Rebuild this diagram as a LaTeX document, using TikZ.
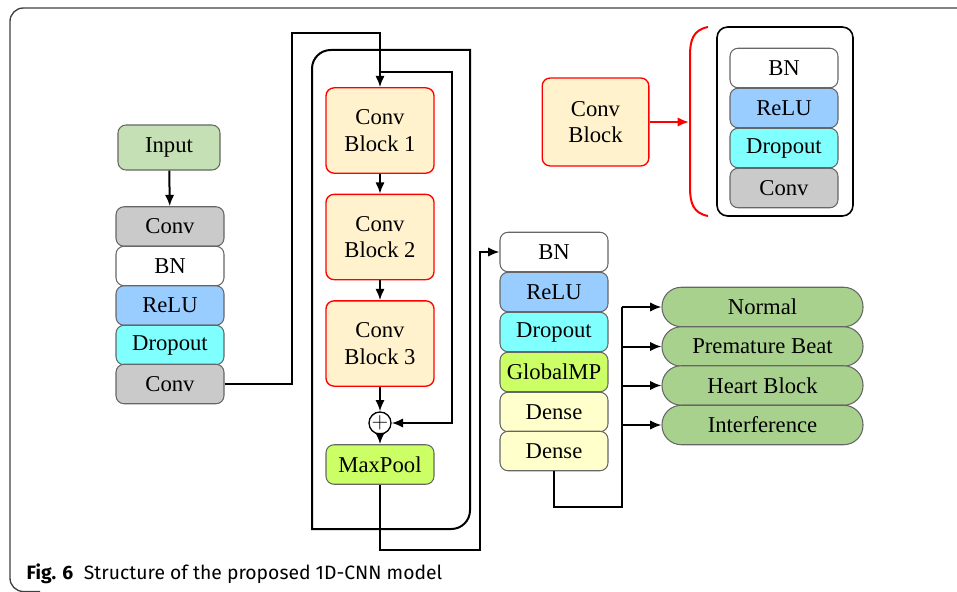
\documentclass[tikz,border=0pt]{standalone}
\usepackage{fontspec}
\setmainfont{Liberation Serif}
\newfontfamily\capfont{Fira Sans}
\usetikzlibrary{arrows.meta}
\definecolor{ingreen}{HTML}{C5E0B4}
\definecolor{cgray}{HTML}{CACACA}
\definecolor{reblue}{HTML}{99CCFF}
\definecolor{docyan}{HTML}{80FFFF}
\definecolor{mpgreen}{HTML}{CCFF66}
\definecolor{dnyellow}{HTML}{FFFFCC}
\definecolor{blkfill}{HTML}{FFF2CC}
\definecolor{outgreen}{HTML}{A9D18E}
\begin{document}
\begin{tikzpicture}[x=0.75pt,y=-0.75pt,
  blk/.style={draw=black!60, line width=0.8pt, rounded corners=6pt, minimum width=81pt, minimum height=29.6pt, inner sep=0pt, font=\fontsize{17}{20}\selectfont},
  cblk/.style={blk, draw=red, line width=1pt, fill=blkfill, minimum height=64pt, align=center},
  res/.style={draw=black!60, line width=0.8pt, fill=outgreen, rounded corners=14.5pt, minimum width=150.75pt, minimum height=29.6pt, inner sep=0pt, font=\fontsize{17}{20}\selectfont},
  link/.style={line width=1.5pt, -{Latex[length=8.5pt,width=7pt]}},
  wire/.style={line width=1.5pt}]
\useasboundingbox (0,0) rectangle (957,592);
\draw[black!75, line width=1pt, rounded corners=10pt] (957,8) -- (10,8) -- (10,591.5) -- (40,591.5); % figure frame

% input branch
\node[blk, fill=ingreen, minimum width=76.5pt, minimum height=33.75pt] (in) at (169,147.5) {Input};
\foreach \n/\t/\c/\y in {lc1/Conv/cgray/226.5, lbn/BN/white/266, lre/ReLU/reblue/305.5, ldo/Dropout/docyan/345, lc2/Conv/cgray/384}
  \node[blk, fill=\c] (\n) at (170,\y) {\t};

% repeated residual part
\foreach \i/\y in {1/130.5, 2/237, 3/343.5}
  \node[cblk] (cb\i) at (380,\y) {Conv\\Block \i};
\node[circle, draw, line width=1pt, minimum size=16.5pt, inner sep=0pt, font=\fontsize{17}{17}\selectfont] (sum) at (380,423) {$+$};
\node[blk, fill=mpgreen] (mp) at (380,464.5) {MaxPool};
\draw[wire] (312,529) [rounded corners=14pt] -- (312,50) [sharp corners] -- (470,50) [rounded corners=14pt] -- (470,529) [sharp corners] -- cycle; % loop frame

% head
\foreach \n/\t/\c/\y in {rbn/BN/white/252, rre/ReLU/reblue/292, rdo/Dropout/docyan/332, rgp/GlobalMP/mpgreen/372, rd1/Dense/dnyellow/412, rd2/Dense/dnyellow/451}
  \node[blk, fill=\c] (\n) at (554,\y) {\t};
\foreach \n/\t/\y in {o1/Normal/307, o2/Premature Beat/346.5, o3/Heart Block/385.5, o4/Interference/425}
  \node[res] (\n) at (762.5,\y) {\t};

% conv block legend
\node[cblk, minimum width=80pt, minimum height=66pt] (key) at (595.5,122) {Conv\\Block};
\node[draw, line width=1.2pt, rounded corners=8pt, minimum width=102pt, minimum height=141.75pt] (kbox) at (785,121.5) {};
\foreach \n/\t/\c/\y in {kbn/BN/white/68, kre/ReLU/reblue/108, kdo/Dropout/docyan/148, kc/Conv/cgray/188}
  \node[blk, fill=\c] (\n) at (784,\y) {\t};
\coordinate (bt) at (689,122);
\draw[red, link] (key.east) -- (bt);
\draw[red, line width=1.5pt] (708,27) .. controls (693,30) and (690,40) .. (690,56) -- (690,187) .. controls (690,203) and (693,213) .. (708,216); % brace

% connectors
\coordinate (up) at (292,33);
\coordinate (skip) at (380,72);
\coordinate (skipr) at (452,72);
\coordinate (low) at (480,550);
\coordinate (fork) at (622,507);
\draw[link] (in) -- (lc1);
\draw[link] (lc2.east) -| (up) -| (cb1.north);
\draw[link] (skip) -- (skipr) |- (sum.east);
\draw[link] (cb1) -- (cb2);
\draw[link] (cb2) -- (cb3);
\draw[link] (cb3) -- (sum);
\draw[link] (sum) -- (mp);
\draw[link] (mp.south) |- (low) |- (rbn.west);
\draw[wire] (rd2.south) |- (fork) -- (fork |- o1.west);
\foreach \n in {o1,o2,o3,o4}
  \draw[link] (fork |- \n.west) -- (\n.west);

\node[anchor=base west, font=\capfont\fontsize{14.5}{16}\selectfont] (cap) at (22,579) {\textbf{Fig. 6}\hspace{0.55em}Structure of the proposed 1D-CNN model};
\end{tikzpicture}
\end{document}
